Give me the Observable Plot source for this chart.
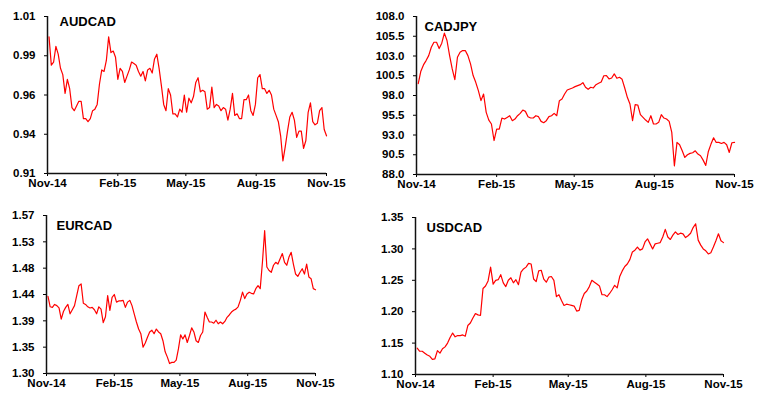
<!DOCTYPE html>
<html><head><meta charset="utf-8">
<script src="https://cdn.jsdelivr.net/npm/d3@7"></script>
<script src="https://cdn.jsdelivr.net/npm/@observablehq/plot@0.6"></script>
<style>
body{margin:0;background:#fff;}
#wrap{position:relative;width:768px;height:396px;overflow:hidden;background:#fff;}
.panel{position:absolute;}
</style></head><body><div id="wrap"></div>
<script>
// Shared date grid: one observation every 3 days starting 3 Nov 2014
const startDate = "2014-11-03";
const stepDays = 3;

const xTickDates = ["2014-11-01","2015-02-01","2015-05-01","2015-08-01","2015-11-01"];
const xTickLabels = ["Nov-14","Feb-15","May-15","Aug-15","Nov-15"];

const audcad = [
0.997,0.979,0.981,0.991,0.986,0.977,0.973,0.961,0.970,0.964,
0.952,0.950,0.953,0.956,0.956,0.945,0.945,0.943,0.945,0.950,
0.951,0.954,0.967,0.976,0.975,0.982,0.997,0.987,0.988,0.984,
0.970,0.977,0.975,0.968,0.972,0.976,0.981,0.980,0.979,0.975,
0.972,0.975,0.969,0.976,0.977,0.974,0.983,0.986,0.977,0.966,
0.954,0.950,0.964,0.960,0.948,0.948,0.946,0.951,0.949,0.960,
0.949,0.958,0.955,0.959,0.968,0.971,0.962,0.963,0.962,0.951,
0.952,0.965,0.952,0.954,0.953,0.950,0.952,0.951,0.944,0.951,
0.961,0.947,0.948,0.945,0.945,0.957,0.957,0.960,0.950,0.947,
0.954,0.971,0.973,0.964,0.964,0.961,0.963,0.960,0.951,0.947,
0.943,0.934,0.918,0.927,0.937,0.946,0.949,0.944,0.933,0.937,
0.937,0.926,0.931,0.949,0.955,0.943,0.941,0.942,0.950,0.952,
0.938,0.934];
const audTicks = [0.91,0.935,0.96,0.985,1.01];
const audTickLabels = ["0.91","0.94","0.96","0.99","1.01"];

const cadjpy = [
99.5,101.07,101.87,102.42,103.05,104.11,104.74,104.74,103.94,104.62,
105.9,104.96,103.05,101.36,100.0,102.84,103.48,103.69,103.69,103.05,
102.0,100.52,99.67,98.61,97.35,98.19,95.87,94.89,94.39,92.3,
93.75,93.75,95.15,95.02,95.23,95.44,94.81,95.02,95.44,95.74,
96.16,95.99,95.32,95.15,95.15,95.44,95.32,94.72,94.56,94.81,
95.32,95.44,95.74,95.44,97.35,97.56,98.19,98.70,98.83,98.95,
99.12,99.25,99.37,99.63,99.04,98.78,99.04,98.95,99.37,99.54,
99.71,100.5,100.52,100.09,100.22,100.73,100.18,100.31,100.05,98.95,
97.77,96.92,94.81,96.84,96.80,95.57,95.23,94.89,94.60,95.44,
94.39,94.39,94.60,95.57,95.15,95.02,94.72,93.33,89.10,92.06,
91.76,91.00,90.16,90.50,90.67,90.75,91.00,90.58,90.37,89.82,
89.14,90.92,91.85,92.65,92.06,92.06,91.93,92.06,91.76,90.79,
92.02,92.06];
const jpyTicks = [88,90.5,93,95.5,98,100.5,103,105.5,108];
const jpyTickLabels = ["88.0","90.5","93.0","95.5","98.0","100.5","103.0","105.5","108.0"];

const eurcad = [
1.432,1.414,1.413,1.418,1.416,1.412,1.393,1.406,1.413,1.418,
1.402,1.409,1.416,1.433,1.450,1.453,1.420,1.418,1.414,1.412,
1.413,1.409,1.402,1.414,1.410,1.387,1.397,1.433,1.408,1.430,
1.435,1.422,1.424,1.424,1.425,1.413,1.422,1.425,1.416,1.402,
1.388,1.376,1.368,1.345,1.352,1.362,1.371,1.374,1.368,1.376,
1.371,1.368,1.356,1.337,1.328,1.317,1.319,1.319,1.323,1.342,
1.366,1.359,1.366,1.353,1.365,1.378,1.371,1.356,1.353,1.365,
1.371,1.405,1.396,1.388,1.388,1.386,1.391,1.385,1.388,1.385,
1.389,1.396,1.400,1.405,1.408,1.410,1.414,1.425,1.439,1.428,
1.436,1.439,1.437,1.436,1.445,1.450,1.445,1.490,1.544,1.482,
1.476,1.473,1.485,1.490,1.487,1.496,1.505,1.490,1.485,1.499,
1.507,1.487,1.470,1.466,1.473,1.479,1.470,1.487,1.465,1.462,
1.445,1.443];
const eurTicks = [1.30,1.345,1.39,1.435,1.48,1.525,1.57];
const eurTickLabels = ["1.30","1.35","1.39","1.44","1.48","1.53","1.57"];

const usdcad = [
1.142,1.137,1.137,1.134,1.131,1.129,1.124,1.125,1.138,1.134,
1.141,1.144,1.150,1.159,1.166,1.160,1.162,1.162,1.163,1.161,
1.178,1.182,1.190,1.197,1.195,1.194,1.237,1.241,1.249,1.271,
1.244,1.250,1.251,1.259,1.246,1.240,1.250,1.254,1.246,1.251,
1.243,1.263,1.268,1.271,1.277,1.276,1.252,1.248,1.265,1.266,
1.252,1.247,1.255,1.256,1.250,1.224,1.227,1.218,1.210,1.212,
1.211,1.210,1.209,1.201,1.202,1.219,1.229,1.233,1.240,1.250,
1.247,1.244,1.241,1.227,1.227,1.224,1.229,1.235,1.242,1.238,
1.256,1.265,1.272,1.276,1.283,1.295,1.298,1.303,1.298,1.300,
1.311,1.316,1.308,1.300,1.308,1.309,1.310,1.319,1.331,1.319,
1.315,1.322,1.327,1.323,1.325,1.324,1.318,1.321,1.325,1.334,
1.340,1.314,1.306,1.300,1.297,1.292,1.294,1.303,1.313,1.324,
1.313,1.310];
const usdTicks = [1.10,1.15,1.20,1.25,1.30,1.35];
const usdTickLabels = ["1.10","1.15","1.20","1.25","1.30","1.35"];

const panels = [
  {name:"AUDCAD", values:audcad, ticks:audTicks, labels:audTickLabels, left:0, top:0,
   m:{marginLeft:47, marginRight:58, marginTop:16, marginBottom:25}, tdx:12, tdy:5},
  {name:"CADJPY", values:cadjpy, ticks:jpyTicks, labels:jpyTickLabels, left:384, top:0,
   m:{marginLeft:32, marginRight:34, marginTop:16, marginBottom:24}, tdx:8, tdy:10},
  {name:"EURCAD", values:eurcad, ticks:eurTicks, labels:eurTickLabels, left:0, top:198,
   m:{marginLeft:46, marginRight:69, marginTop:17, marginBottom:23}, tdx:10, tdy:10},
  {name:"USDCAD", values:usdcad, ticks:usdTicks, labels:usdTickLabels, left:384, top:198,
   m:{marginLeft:31, marginRight:45, marginTop:19, marginBottom:22}, tdx:11, tdy:10}
];

const parse = d3.utcParse("%Y-%m-%d");
const start = parse(startDate);
const xTicks = xTickDates.map(parse);
const xLabelMap = new Map(xTicks.map((d,i)=>[+d, xTickLabels[i]]));
const font = "'Liberation Sans', Arial, sans-serif";
const wrap = document.getElementById("wrap");

for (const p of panels) {
  const data = p.values.map((v,i)=>({date:d3.utcDay.offset(start, i*stepDays), value:v}));
  const yMin = p.ticks[0], yMax = p.ticks[p.ticks.length-1];
  const chart = Plot.plot({
    width:384, height:198, ...p.m,
    style:{overflow:"visible", fontFamily:font, fontSize:"11.5px", fontWeight:"bold", color:"#000", background:"transparent"},
    x:{type:"utc", domain:[xTicks[0], xTicks[xTicks.length-1]], label:null},
    y:{domain:[yMin, yMax], label:null},
    marks:[
      Plot.axisX(xTicks, {tickSize:3, tickPadding:2, tickFormat:d=>xLabelMap.get(+d), stroke:"#000", label:null}),
      Plot.axisY(p.ticks, {tickSize:3, tickPadding:9, tickFormat:d=>p.labels[p.ticks.indexOf(d)], stroke:"#000", label:null}),
      Plot.ruleX([xTicks[0]], {stroke:"#111", strokeWidth:1.5}),
      Plot.ruleY([yMin], {stroke:"#111", strokeWidth:1.5}),
      Plot.line(data, {x:"date", y:"value", stroke:"#ff0000", strokeWidth:1.2}),
      Plot.text([p.name], {text:d=>d, frameAnchor:"top-left", textAnchor:"start", lineAnchor:"middle",
        dx:p.tdx, dy:p.tdy, fontSize:13, fontWeight:"bold", fill:"#000"})
    ]
  });
  chart.classList.add("panel");
  chart.style.left = p.left + "px";
  chart.style.top = p.top + "px";
  chart.style.position = "absolute";
  wrap.appendChild(chart);
}
</script></body></html>
